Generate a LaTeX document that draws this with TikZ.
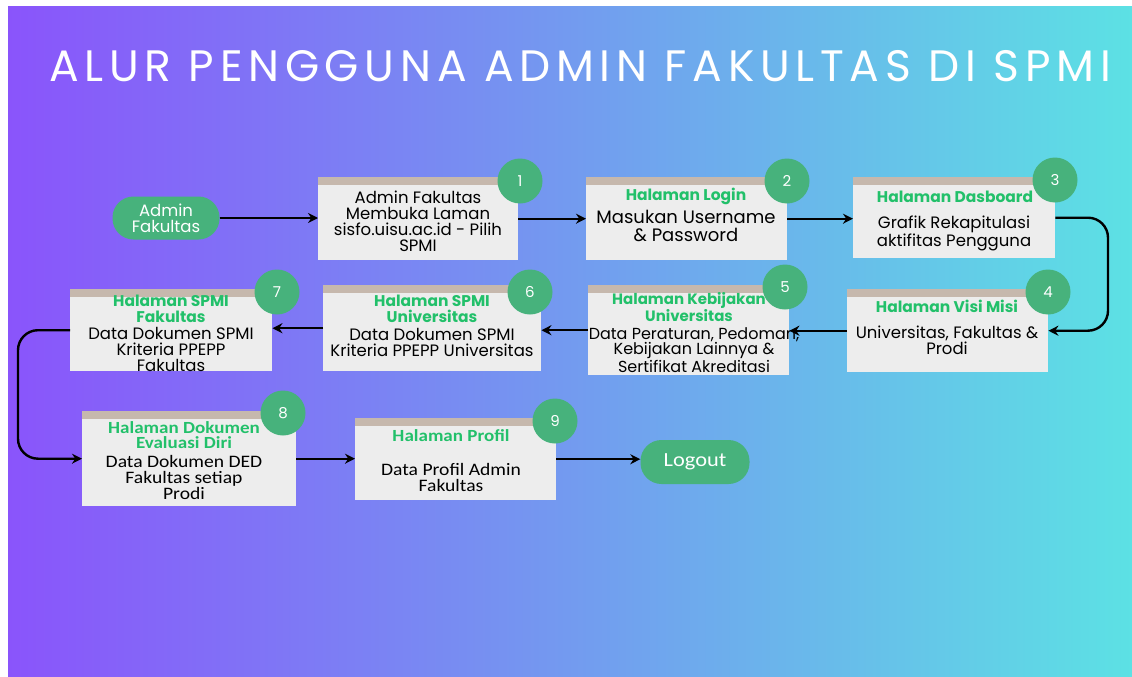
\documentclass[tikz,border=0pt]{standalone}
\usepackage{fontspec}
\setmainfont{Poppins}
\newfontfamily\titlefont[LetterSpace=13]{Poppins}
\newfontfamily\narrowfont[FakeStretch=1.12]{Carlito}
\usetikzlibrary{arrows.meta,calc}
\definecolor{bgL}{HTML}{8A54FB}
\definecolor{bgR}{HTML}{5CE1E4}
\definecolor{boxgray}{HTML}{EDEDED}
\definecolor{stripc}{HTML}{C6B8AD}
\definecolor{badgec}{HTML}{47B27C}
\definecolor{titlegreen}{HTML}{22C06A}
\tikzset{
  pbox/.style={fill=boxgray, draw=none, inner sep=0pt, anchor=north west},
  strip/.style={fill=stripc},
  badge/.style={circle, fill=badgec, text=white, minimum size=45pt, inner sep=0pt, font=\fontsize{15}{15}\selectfont},
  pill/.style={rounded corners=21pt, fill=badgec, text=white, inner sep=0pt, align=center},
  htitle/.style={text=titlegreen, font=\bfseries\fontsize{15.5}{16}\selectfont, align=center, inner sep=0pt},
  body/.style={text=black, font=\fontsize{16.5}{16}\selectfont, align=center, inner sep=0pt},
  nbody/.style={text=black, font=\narrowfont\fontsize{17.5}{16}\selectfont, align=center, inner sep=0pt},
  ntitle/.style={text=titlegreen, font=\narrowfont\bfseries\fontsize{17}{15}\selectfont, align=center, inner sep=0pt},
  arr/.style={draw=black, line width=2.4pt, -{Stealth[length=10pt,width=10pt]}},
}
\newcommand{\mkbox}[5]{%
  \node[pbox, minimum width=#4pt-#2pt, minimum height=#5pt-#3pt] (#1) at (#2,#3) {};
  \fill[strip] (#1.north west) rectangle ([yshift=-8pt]#1.north east);
}
\begin{document}
\begin{tikzpicture}[x=1pt,y=-1pt]
\useasboundingbox (0,0) rectangle (1132,677);
\fill[white] (0,0) rectangle (1132,677);
\shade[left color=bgL, right color=bgR] (8,7) rectangle (1132,677);

\node[text=white, font=\titlefont\fontsize{44}{44}\selectfont, inner sep=0pt] (title) at (580,66) {ALUR PENGGUNA ADMIN FAKULTAS DI SPMI};

% row 1
\node[pill, minimum width=107pt, minimum height=43pt, font=\fontsize{16.5}{16}\selectfont] (admin) at (166,218) {Admin\\Fakultas};
\mkbox{b1}{318}{177}{518}{260}
\node[body] (d1) at (418,221) {Admin Fakultas\\Membuka Laman\\sisfo.uisu.ac.id - Pilih\\SPMI};
\node[badge] (c1) at (520,181) {1};

\mkbox{b2}{586}{177}{787}{260}
\node[htitle] (t2) at (686,196) {Halaman Login};
\node[body, font=\fontsize{18}{17.5}\selectfont] (d2) at (686,226) {Masukan Username\\\& Password};
\node[badge] (c2) at (787,181) {2};

\mkbox{b3}{853}{177}{1055}{258}
\node[htitle] (t3) at (955,197) {Halaman Dasboard};
\node[body] (d3) at (954,233) {Grafik Rekapitulasi\\aktifitas Pengguna};
\node[badge] (c3) at (1055,180) {3};

% row 2
\mkbox{b4}{847}{289}{1048}{372}
\node[htitle] (t4) at (947,306) {Halaman Visi Misi};
\node[body] (d4) at (947,340) {Universitas, Fakultas \&\\Prodi};
\node[badge] (c4) at (1048,292) {4};

\mkbox{b5}{588}{285}{789}{375}
\node[htitle, font=\bfseries\fontsize{15}{15}\selectfont] (t5) at (689,307) {Halaman Kebijakan\\Universitas};
\node[body, font=\fontsize{16}{15.5}\selectfont] (d5) at (694,350) {Data Peraturan, Pedoman,\\Kebijakan Lainnya \&\\Sertifikat Akreditasi};
\node[badge] (c5) at (785,287) {5};

\mkbox{b6}{323}{285}{541}{371}
\node[htitle] (t6) at (432,309) {Halaman SPMI\\Universitas};
\node[body] (d6) at (432,342) {Data Dokumen SPMI\\Kriteria PPEPP Universitas};
\node[badge] (c6) at (530,292) {6};

\mkbox{b7}{70}{289}{272}{371}
\node[htitle] (t7) at (171,309) {Halaman SPMI\\Fakultas};
\node[body] (d7) at (171,349) {Data Dokumen SPMI\\Kriteria PPEPP\\Fakultas};
\node[badge] (c7) at (277,292) {7};

% row 3
\mkbox{b8}{82}{411}{296}{506}
\node[ntitle] (t8) at (184,435) {Halaman Dokumen\\Evaluasi Diri};
\node[nbody] (d8) at (184,477) {Data Dokumen DED\\Fakultas setiap\\Prodi};
\node[badge] (c8) at (283,413) {8};

\mkbox{b9}{355}{418}{556}{500}
\node[ntitle] (t9) at (451,436) {Halaman Profil};
\node[nbody] (d9) at (451,477) {Data Profil Admin\\Fakultas};
\node[badge] (c9) at (555,421) {9};

\node[pill, minimum width=109pt, minimum height=44pt, font=\narrowfont\fontsize{20}{20}\selectfont] (logout) at (695,462) {Logout};

% connectors
\coordinate (rx) at (1108,0);
\coordinate (lx) at (18,0);
\draw[arr] (admin.east) -- (admin.east -| b1.west);
\draw[arr] (b1.east) -- (b1.east -| b2.west);
\draw[arr] (b2.east) -- (b2.east -| b3.west);
\draw[arr, rounded corners=20pt] (b3.east) -- (b3.east -| rx) -- (b4.east -| rx) -- (b4.east);
\draw[arr] (b4.west) -- (b4.west -| b5.east);
\draw[arr] (b5.west) -- (b5.west -| b6.east);
\draw[arr] (b6.west) -- (b6.west -| b7.east);
\draw[arr, rounded corners=20pt] (b7.west) -- (b7.west -| lx) -- (b8.west -| lx) -- (b8.west);
\draw[arr] (b8.east) -- (b8.east -| b9.west);
\draw[arr] (b9.east) -- (b9.east -| logout.west);
\end{tikzpicture}
\end{document}
